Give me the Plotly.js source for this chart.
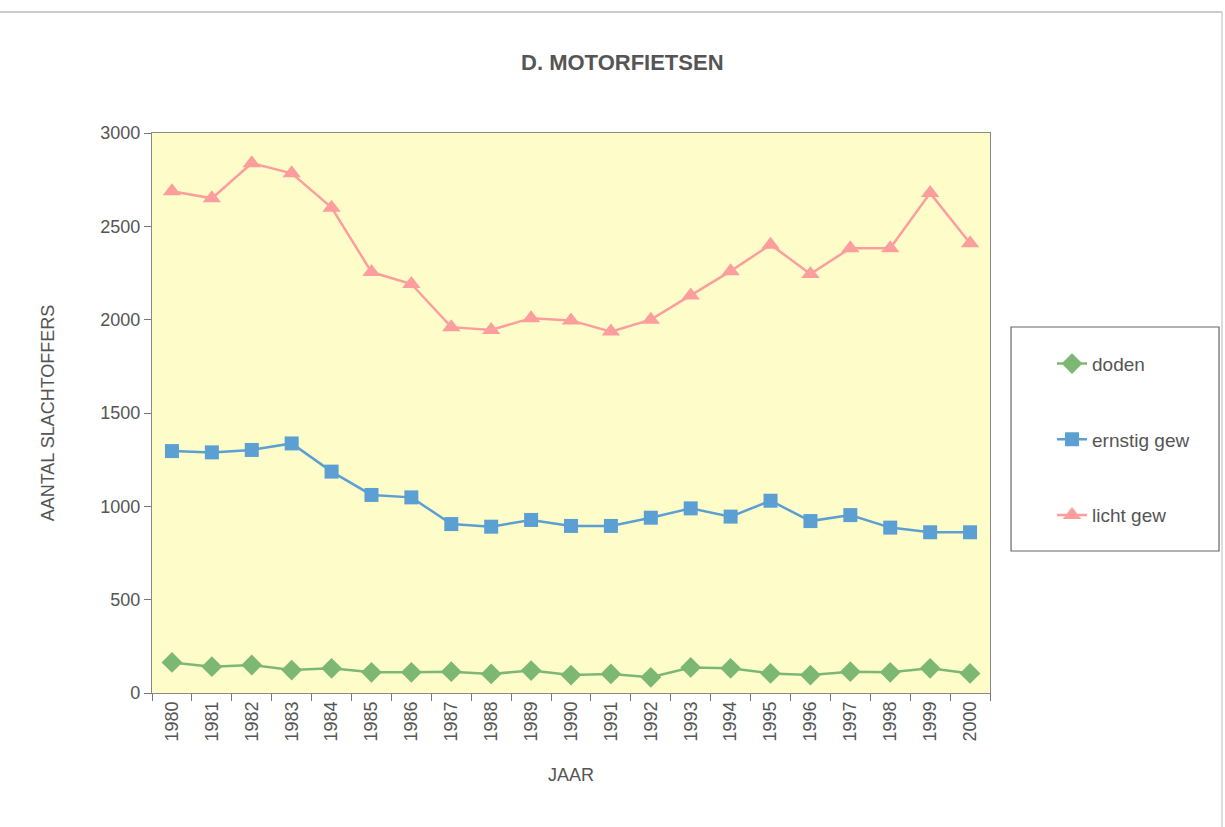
<!DOCTYPE html>
<html>
<head>
<meta charset="utf-8">
<script src="https://cdn.plot.ly/plotly-3.0.1.min.js"></script>
<style>html,body{margin:0;padding:0;background:#fff;}#chart{width:1225px;height:827px;}</style>
</head>
<body>
<div id="chart"></div>
<script>
const years = ["1980","1981","1982","1983","1984","1985","1986","1987","1988","1989","1990",
               "1991","1992","1993","1994","1995","1996","1997","1998","1999","2000"];
const doden = [164,141,150,123,132,111,111,114,102,120,96,102,84,137,132,105,96,114,111,132,105];
const ernstigGew = [1296,1289,1302,1337,1186,1061,1048,905,891,927,895,895,939,989,945,1030,921,953,886,861,861];
const lichtGew = [2688,2650,2838,2784,2600,2255,2191,1960,1945,2008,1996,1936,2000,2129,2260,2402,2245,2383,2383,2678,2409];

const textColor = '#555555';
const font = {family: 'Liberation Sans, Arial, sans-serif', size: 17, color: textColor};

const traces = [
  {x: years, y: doden, name: 'doden', type: 'scatter', mode: 'lines+markers', legendgroup: 'a',
   line: {color: '#7cb872', width: 2.5}, marker: {symbol: 'diamond', size: 16, color: '#7cb872'}},
  {x: years, y: ernstigGew, name: 'ernstig gew', type: 'scatter', mode: 'lines+markers', legendgroup: 'b',
   line: {color: '#5b9fd3', width: 2.5}, marker: {symbol: 'square', size: 14, color: '#5b9fd3'}},
  {x: years, y: lichtGew, name: 'licht gew', type: 'scatter', mode: 'lines+markers', legendgroup: 'c',
   line: {color: '#fd9e9e', width: 2.5}, marker: {symbol: 'triangle-up', size: 16, color: '#fd9e9e'}}
];

const layout = {
  width: 1225, height: 827,
  margin: {l: 152, r: 235, t: 133, b: 134},
  paper_bgcolor: '#ffffff',
  plot_bgcolor: '#fefdc9',
  font: font,
  showlegend: true,
  title: {text: '<b>D. MOTORFIETSEN</b>', x: 0.508, xanchor: 'center', y: 0.925, yanchor: 'middle',
          font: {family: 'Liberation Sans, Arial, sans-serif', size: 22, color: textColor}},
  xaxis: {
    type: 'category', range: [-0.5, 20.5], tickson: 'boundaries', ticks: 'outside', ticklen: 7, tickcolor: '#777',
    tickangle: -90, showgrid: false, showline: true, linecolor: '#888', linewidth: 1.2, mirror: true,
    tickfont: {size: 18, color: textColor},
    title: {text: 'JAAR', font: {size: 18, color: textColor}, standoff: 28}
  },
  yaxis: {
    range: [0, 3000], tickvals: [0, 500, 1000, 1500, 2000, 2500, 3000], ticks: 'outside', ticklen: 7,
    tickcolor: '#777', showgrid: false, zeroline: false, showline: true, linecolor: '#888', linewidth: 1.2,
    mirror: true, tickfont: {size: 18, color: textColor},
    title: {text: 'AANTAL SLACHTOFFERS', font: {size: 18, color: textColor}, standoff: 40}
  },
  legend: {
    x: 1.074, xanchor: 'left', y: 0.622, yanchor: 'top', bgcolor: 'rgba(0,0,0,0)', borderwidth: 0,
    font: {size: 19, color: textColor}, traceorder: 'grouped', tracegroupgap: 48
  },
  shapes: [
    {type: 'rect', xref: 'paper', yref: 'paper', x0: 1.0251, x1: 1.2733, y0: (693-327)/560, y1: (693-551)/560,
     line: {color: '#666', width: 1.2}, fillcolor: 'rgba(0,0,0,0)'},
    {type: 'line', xref: 'paper', yref: 'paper', x0: -152/838, x1: 1070/838, y0: (693-12)/560, y1: (693-12)/560,
     line: {color: '#999', width: 1}},
    {type: 'line', xref: 'paper', yref: 'paper', x0: 1070/838, x1: 1070/838, y0: (693-12)/560, y1: (693-827)/560,
     line: {color: '#bbb', width: 1}}
  ]
};

Plotly.newPlot('chart', traces, layout, {displayModeBar: false, staticPlot: true});
</script>
</body>
</html>
